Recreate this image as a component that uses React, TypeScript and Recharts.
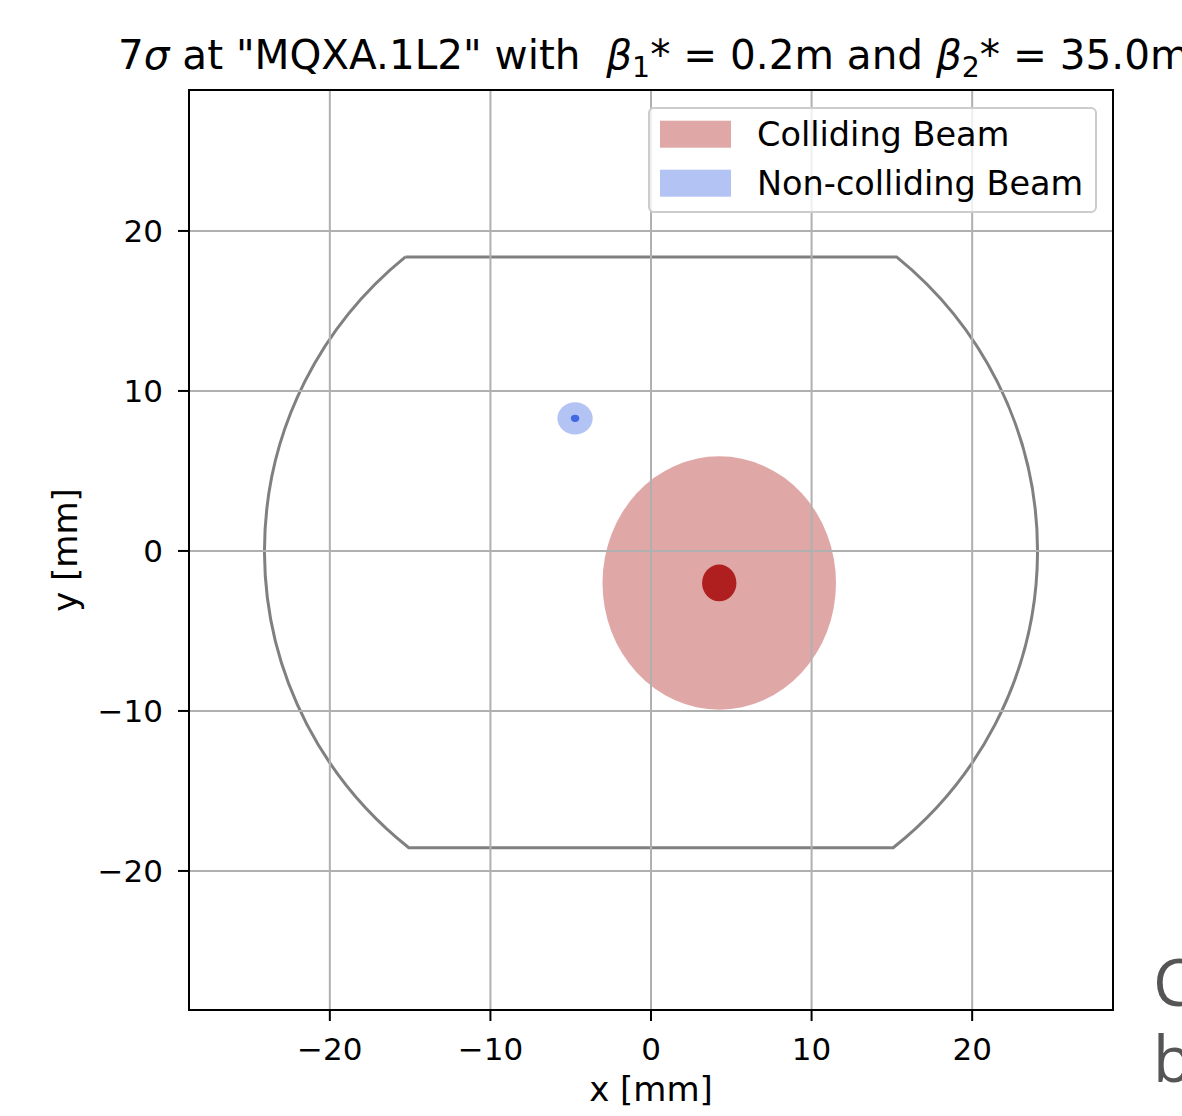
import React from 'react';
import * as Recharts from 'recharts';

const { ScatterChart, Scatter, XAxis, YAxis, CartesianGrid, ReferenceArea, Legend } = Recharts as any;

// ---- data (mm) ----
const X_MIN = -28.77;
const X_MAX = 28.77;
const Y_MIN = -28.69;
const Y_MAX = 28.81;
const xTicks = [-20, -10, 0, 10, 20];
const yTicks = [-20, -10, 0, 10, 20];

// aperture: ellipse radii clipped by flat top/bottom
const aperture = [{ x: 0, y: 0, rx: 24.07, ry: 23.8, top: 18.38, bottom: -18.55 }];
// colliding beam: 7 sigma envelope and 1 sigma core
const collidingEnvelope = [{ x: 4.25, y: -2.0, rx: 7.27, ry: 7.92 }];
const collidingCore = [{ x: 4.25, y: -2.0, rx: 1.07, ry: 1.15 }];
// non-colliding beam
const nonCollidingEnvelope = [{ x: -4.73, y: 8.29, rx: 1.1, ry: 1.01 }];
const nonCollidingCore = [{ x: -4.73, y: 8.29, rx: 0.26, ry: 0.23 }];

const FONT = 'DejaVu Sans';

const fmt = (v: number) => (v < 0 ? `\u2212${Math.abs(v)}` : `${v}`);

function usePlotAreaSafe() {
  const h = (Recharts as any).usePlotArea;
  const p = h ? h() : undefined;
  return p && p.width ? p : { x: 189, y: 90, width: 924, height: 920 };
}

function EllipseShape(props: any) {
  const plot = usePlotAreaSafe();
  const kx = plot.width / (X_MAX - X_MIN);
  const ky = plot.height / (Y_MAX - Y_MIN);
  const { cx, cy, payload, color, alpha } = props;
  if (cx == null || cy == null || !payload) return null;
  return (
    <ellipse cx={cx} cy={cy} rx={payload.rx * kx} ry={payload.ry * ky} fill={color} fillOpacity={alpha} />
  );
}

function ApertureShape(props: any) {
  const plot = usePlotAreaSafe();
  const kx = plot.width / (X_MAX - X_MIN);
  const ky = plot.height / (Y_MAX - Y_MIN);
  const { cx, cy, payload } = props;
  if (cx == null || cy == null || !payload) return null;
  const { rx, ry, top, bottom } = payload;
  const xt = rx * Math.sqrt(1 - (top / ry) ** 2);
  const xb = rx * Math.sqrt(1 - (bottom / ry) ** 2);
  const RX = rx * kx;
  const RY = ry * ky;
  const d = `M ${cx - xt * kx} ${cy - top * ky} L ${cx + xt * kx} ${cy - top * ky} A ${RX} ${RY} 0 0 1 ${cx + xb * kx} ${cy - bottom * ky} L ${cx - xb * kx} ${cy - bottom * ky} A ${RX} ${RY} 0 0 1 ${cx - xt * kx} ${cy - top * ky}`;
  return <path d={d} fill="none" stroke="#808080" strokeWidth={3} />;
}

function XLabel(props: any) {
  const vb = props.viewBox || { x: 189, y: 1010, width: 924, height: 60 };
  return (
    <text x={vb.x + vb.width / 2} y={vb.y + 91} textAnchor="middle" fontSize={34} fontFamily={FONT} fill="#000">
      x [mm]
    </text>
  );
}

function YLabel(props: any) {
  const vb = props.viewBox || { x: 109, y: 90, width: 80, height: 920 };
  const x = vb.x + vb.width - 112;
  const y = vb.y + vb.height / 2;
  return (
    <text x={x} y={y} transform={`rotate(-90 ${x} ${y})`} textAnchor="middle" fontSize={34} fontFamily={FONT} fill="#000">
      y [mm]
    </text>
  );
}

const renderLegend = (props: any) => {
  const items = (props.payload || []).filter((p: any) => p.type !== 'none');
  return (
    <svg width={449} height={106} style={{ display: 'block' }}>
      <rect x={1} y={1} width={447} height={104} rx={5} fill="#ffffff" fillOpacity={0.8} stroke="#cccccc" strokeWidth={2} />
      {items.map((it: any, i: number) => (
        <g key={i}>
          <rect x={12} y={13.7 + i * 49} width={71} height={27} fill={it.color} fillOpacity={0.4} />
          <text x={109} y={39 + i * 49} fontSize={33.5} fontFamily={FONT} fill="#000">
            {it.value}
          </text>
        </g>
      ))}
    </svg>
  );
};

export default function App() {
  return (
    <div style={{ position: 'absolute', left: 0, top: 0, width: 1182, height: 1116, overflow: 'hidden', background: '#fff' }}>
      <ScatterChart width={1182} height={1116} margin={{ top: 90, right: 69, bottom: 46, left: 109 }}>
        <XAxis
          type="number"
          dataKey="x"
          domain={[X_MIN, X_MAX]}
          ticks={xTicks}
          allowDataOverflow
          height={60}
          tickSize={11}
          tickMargin={17}
          tickFormatter={fmt}
          tick={{ fontSize: 31, fill: '#000', fontFamily: FONT }}
          axisLine={{ stroke: '#000', strokeWidth: 2 }}
          tickLine={{ stroke: '#000', strokeWidth: 2 }}
          label={<XLabel />}
        />
        <YAxis
          type="number"
          dataKey="y"
          domain={[Y_MIN, Y_MAX]}
          ticks={yTicks}
          allowDataOverflow
          width={80}
          tickSize={11}
          tickMargin={15}
          tickFormatter={fmt}
          tick={{ fontSize: 31, fill: '#000', fontFamily: FONT }}
          axisLine={{ stroke: '#000', strokeWidth: 2 }}
          tickLine={{ stroke: '#000', strokeWidth: 2 }}
          label={<YLabel />}
        />
        <Scatter name="aperture" data={aperture} legendType="none" isAnimationActive={false} fill="#808080" shape={<ApertureShape />} />
        <Scatter name="Colliding Beam" data={collidingEnvelope} fill="#b22222" isAnimationActive={false} shape={<EllipseShape color="#b22222" alpha={0.4} />} />
        <Scatter name="Non-colliding Beam" data={nonCollidingEnvelope} fill="#4169e1" isAnimationActive={false} shape={<EllipseShape color="#4169e1" alpha={0.4} />} />
        <Scatter name="collidingCore" data={collidingCore} legendType="none" fill="#b22222" isAnimationActive={false} shape={<EllipseShape color="#b01f1f" alpha={1} />} />
        <Scatter name="nonCollidingCore" data={nonCollidingCore} legendType="none" fill="#4169e1" isAnimationActive={false} shape={<EllipseShape color="#4169e1" alpha={1} />} />
        <CartesianGrid stroke="#b0b0b0" strokeWidth={2} zIndex={650} />
        <ReferenceArea x1={X_MIN} x2={X_MAX} y1={Y_MIN} y2={Y_MAX} fill="none" fillOpacity={0} stroke="#000" strokeWidth={2} zIndex={700} />
        <Legend
          layout="vertical"
          align="center"
          verticalAlign="middle"
          content={renderLegend}
          wrapperStyle={{ position: 'absolute', left: 648, top: 107, width: 449, height: 106 }}
        />
      </ScatterChart>
      <svg width={1182} height={1116} style={{ position: 'absolute', left: 0, top: 0, pointerEvents: 'none' }}>
        <text x={118} y={69} fontSize={40.5} fontFamily={FONT} fill="#000" style={{ whiteSpace: 'pre' }}>
          <tspan>7</tspan>
          <tspan fontStyle="italic">σ</tspan>
          <tspan>{' at "MQXA.1L2" with  '}</tspan>
          <tspan fontStyle="italic">β</tspan>
          <tspan fontSize={28.4} dy={8}>1</tspan>
          <tspan dy={-8}>{'* = 0.2m and '}</tspan>
          <tspan fontStyle="italic">β</tspan>
          <tspan fontSize={28.4} dy={8}>2</tspan>
          <tspan dy={-8}>{'* = 35.0m'}</tspan>
        </text>
        <text x={1153} y={1006} fontSize={65} fontFamily="Open Sans" fill="#555555">C</text>
        <text x={1153} y={1082} fontSize={64} fontFamily="Open Sans" fill="#555555">b</text>
      </svg>
    </div>
  );
}
